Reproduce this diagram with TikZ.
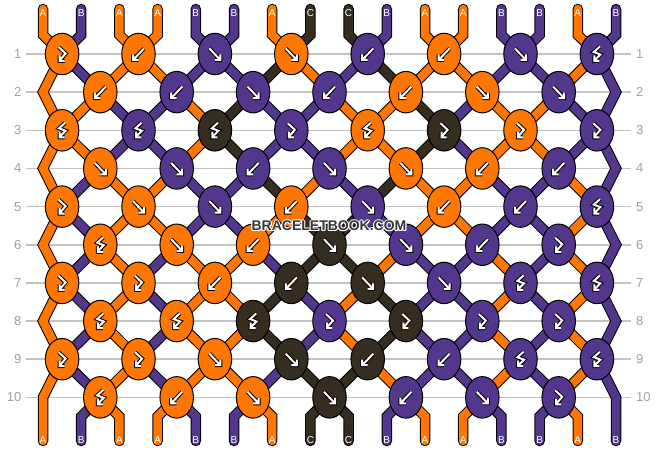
\documentclass[tikz,border=0pt]{standalone}
\usepackage{fontspec}
\setmainfont{Liberation Sans}
\usetikzlibrary{shapes.geometric}
\definecolor{colO}{RGB}{255,119,0}
\definecolor{colP}{RGB}{82,55,141}
\definecolor{colK}{RGB}{52,45,32}
\definecolor{rowgray}{RGB}{160,160,160}
\definecolor{linegray}{RGB}{195,195,195}
\definecolor{wmgray}{RGB}{55,55,55}
\newcommand\wmhalo[1]{%
  \makebox[0pt][l]{\hspace*{-1pt}\textcolor{white}{#1}}%
  \makebox[0pt][l]{\hspace*{1pt}\textcolor{white}{#1}}%
  \makebox[0pt][l]{\raisebox{1pt}{\textcolor{white}{#1}}}%
  \makebox[0pt][l]{\raisebox{-1pt}{\textcolor{white}{#1}}}%
  \makebox[0pt][l]{\hspace*{-0.8pt}\raisebox{0.8pt}{\textcolor{white}{#1}}}%
  \makebox[0pt][l]{\hspace*{0.8pt}\raisebox{0.8pt}{\textcolor{white}{#1}}}%
  \makebox[0pt][l]{\hspace*{-0.8pt}\raisebox{-0.8pt}{\textcolor{white}{#1}}}%
  \makebox[0pt][l]{\hspace*{0.8pt}\raisebox{-0.8pt}{\textcolor{white}{#1}}}%
  \textcolor{wmgray}{#1}}
\tikzset{
  strand/.style={line width=1pt, draw=black, double=#1, double distance=8.5pt},
  knot/.style={ellipse, draw=black, line width=1pt, fill=#1, minimum width=33.5pt, minimum height=41.5pt, inner sep=0pt},
  glyphout/.style={draw=black, line width=4pt, line cap=square, line join=miter},
  glyphin/.style={draw=white, line width=2pt, line cap=square, line join=miter},
  rowlab/.style={text=rowgray, font=\fontsize{13}{13}\selectfont, inner sep=0pt},
  endlab/.style={text=white, font=\fontsize{10}{10}\selectfont, inner sep=0pt},
  guide/.style={draw=linegray, line width=1.5pt},
  pics/gF/.style={code={\foreach \s in {glyphout,glyphin}{\draw[\s] (-5.5,-5.5) -- (5,5.5) (5.5,0.5) -- (5.5,6) -- (0,6);}}},
  pics/gB/.style={code={\foreach \s in {glyphout,glyphin}{\draw[\s] (5.5,-5.5) -- (-5,5.5) (-5.5,0.5) -- (-5.5,6) -- (0,6);}}},
  pics/gFB/.style={code={\foreach \s in {glyphout,glyphin}{\draw[\s] (-3.5,-7) -- (3.5,-0.5) -- (-2.5,6.5) (-2.5,1.5) -- (-2.5,7) -- (2.5,7);}}},
  pics/gBF/.style={code={\foreach \s in {glyphout,glyphin}{\draw[\s] (3,-7.5) -- (-3,-2) -- (3.5,0.5) -- (-2.5,6.5) (-2.5,1.5) -- (-2.5,7) -- (2.5,7);}}},
}
\begin{document}
\begin{tikzpicture}[x=1pt,y=-1pt]
\fill[white] (0,0) rectangle (658,452);
\useasboundingbox (0,0) rectangle (658,452);
% coordinates
\foreach \p in {1,...,16}{
  \pgfmathsetmacro\xp{43+38.2*(\p-1)}
  \coordinate (t-\p) at (\xp,9);
  \coordinate (tb-\p) at (\xp,34.9);
  \coordinate (bb-\p) at (\xp,416.5);
  \coordinate (b-\p) at (\xp,441);
}
\foreach \r in {1,...,10}{
  \pgfmathsetmacro\yr{54+38.15*(\r-1)}
  \coordinate (el-\r) at (43,\yr);
  \coordinate (er-\r) at (616,\yr);
  \node[rowlab, anchor=east] (rl-\r) at (21.5,\yr) {\r};
  \node[rowlab, anchor=west] (rr-\r) at (636,\yr) {\r};
  \ifodd\r\relax
    \foreach \k in {1,...,8}{\pgfmathsetmacro\xk{43+38.2*(2*\k-1.5)}\coordinate (c-\r-\k) at (\xk,\yr);}
  \else
    \foreach \k in {1,...,7}{\pgfmathsetmacro\xk{43+38.2*(2*\k-0.5)}\coordinate (c-\r-\k) at (\xk,\yr);}
  \fi
}
% guide lines
\foreach \r in {1,...,10}{
  \draw[guide] ([xshift=4.5pt]rl-\r.east) -- ([xshift=-5pt]rr-\r.west);
}
% strings
\foreach \r/\cols in {
 0/{O,P,O,O,P,P,O,K,K,P,O,O,P,P,O,P},
 1/{O,P,O,O,P,P,K,O,P,K,O,O,P,P,O,P},
 2/{O,O,P,P,O,K,P,P,O,O,K,P,O,O,P,P},
 3/{O,O,P,P,O,K,P,P,O,O,K,P,O,O,P,P},
 4/{O,P,O,O,P,P,K,O,P,K,O,O,P,P,O,P},
 5/{O,P,O,O,P,P,O,K,K,P,O,O,P,P,O,P},
 6/{O,P,O,P,O,O,P,K,K,O,P,P,O,P,O,P},
 7/{O,P,O,P,O,O,K,P,O,K,P,P,O,P,O,P},
 8/{O,P,O,P,O,O,K,P,O,K,P,P,O,P,O,P},
 9/{O,P,O,P,O,O,P,K,K,O,P,P,O,P,O,P},
 10/{O,P,O,O,P,P,O,K,K,P,O,O,P,P,O,P}}{
  \pgfmathtruncatemacro\rn{\r+1}
  \pgfmathtruncatemacro\rnn{\r+2}
  \foreach \c [count=\p] in \cols {
    \pgfmathtruncatemacro\ka{(\p+1)/2}
    \pgfmathtruncatemacro\kb{\p/2}
    \ifnum\r=0
      \draw[strand=col\c, line cap=round] (t-\p) -- (tb-\p) -- (c-1-\ka);
    \else\ifnum\r=10
      \ifnum\p>1 \ifnum\p<16
        \draw[strand=col\c, line cap=round] (c-10-\kb) -- (bb-\p) -- (b-\p);
      \fi\fi
    \else\ifodd\r\relax
      \ifnum\p=1
        \ifnum\r=9 \draw[strand=col\c, line cap=round] (c-9-1) -- (el-10) -- (b-1);
        \else \draw[strand=col\c] (c-\r-1) -- (el-\rn) -- (c-\rnn-1); \fi
      \else\ifnum\p=16
        \ifnum\r=9 \draw[strand=col\c, line cap=round] (c-9-8) -- (er-10) -- (b-16);
        \else \draw[strand=col\c] (c-\r-8) -- (er-\rn) -- (c-\rnn-8); \fi
      \else\ifodd\p\relax
        \draw[strand=col\c] (c-\r-\ka) -- (c-\rn-\kb);
      \else
        \draw[strand=col\c] (c-\r-\kb) -- (c-\rn-\kb);
      \fi\fi\fi
    \else
      \ifnum\p>1 \ifnum\p<16
        \ifodd\p\relax
          \draw[strand=col\c] (c-\r-\kb) -- (c-\rn-\ka);
        \else
          \draw[strand=col\c] (c-\r-\kb) -- (c-\rn-\kb);
        \fi
      \fi\fi
    \fi\fi\fi
  }
}
% knots
\foreach \r/\lst in {
 1/{FB/O,B/O,F/P,F/O,B/P,B/O,F/P,BF/P},
 2/{B/O,B/P,F/P,B/P,B/O,F/O,F/P},
 3/{BF/O,BF/P,BF/K,FB/P,BF/O,FB/K,FB/O,FB/P},
 4/{F/O,F/P,B/P,F/P,F/O,B/O,B/P},
 5/{FB/O,F/O,F/P,B/O,F/P,B/O,B/P,BF/P},
 6/{BF/O,F/O,B/O,F/K,F/P,B/P,FB/P},
 7/{FB/O,FB/O,B/O,B/K,F/K,F/P,BF/P,BF/P},
 8/{BF/O,BF/O,BF/K,FB/P,FB/K,FB/P,FB/P},
 9/{FB/O,FB/O,F/O,F/K,B/K,B/P,BF/P,BF/P},
 10/{BF/O,B/O,F/O,F/K,B/P,F/P,FB/P}}{
  \foreach \t/\c [count=\k] in \lst {
    \node[knot=col\c] (n-\r-\k) at (c-\r-\k) {};
    \pic at (c-\r-\k) {g\t};
  }
}
% string end labels
\foreach \L [count=\p] in {A,B,A,A,B,B,A,C,C,B,A,A,B,B,A,B}{
  \pgfmathsetmacro\xp{43+38.2*(\p-1)}
  \node[endlab] (lt-\p) at (\xp,13) {\L};
  \node[endlab] (lb-\p) at (\xp,440) {\L};
}
% watermark (dark text with white outline)
\node[inner sep=0pt, font=\bfseries\fontsize{14}{14}\selectfont] (wm) at (329,226) {\wmhalo{BRACELETBOOK.COM}};
\end{tikzpicture}
\end{document}
